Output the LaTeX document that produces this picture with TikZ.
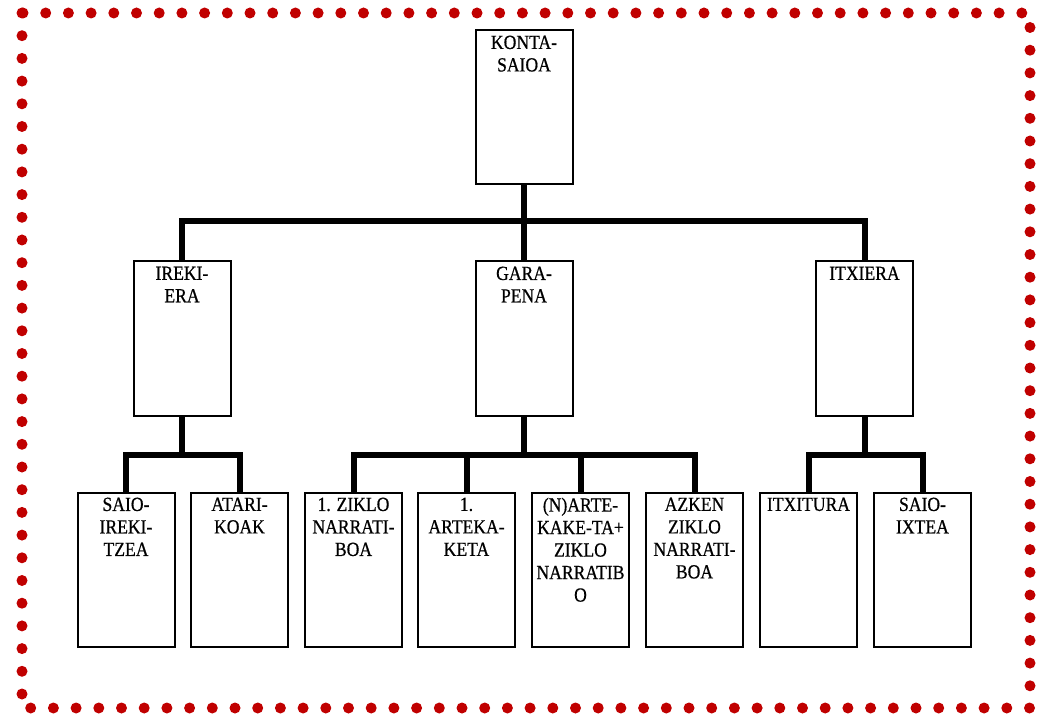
\documentclass[tikz,border=0pt]{standalone}
\usepackage{fontspec}
\setmainfont{Liberation Serif}[FakeStretch=0.88, FakeBold=0.6]
\usepackage{xcolor}
\usetikzlibrary{positioning, calc}

\definecolor{dotred}{HTML}{C00000}

\begin{document}
\begin{tikzpicture}[x=1pt, y=-1pt,
    box/.style={draw, line width=2pt, minimum width=97pt, minimum height=154pt, inner sep=0pt},
    lbl/.style={anchor=north, yshift=-6pt, align=center, inner sep=0pt,
        font=\fontsize{20}{22.5}\selectfont},
    conn/.style={line width=6pt}]
    \useasboundingbox (0,0) rectangle (1037,714);

    % Dotted frame
    \draw[dotred, line width=11pt, line cap=round, dash pattern=on 0pt off 22.7pt]
        (22,13) rectangle (1030,708);

    % Top level
    \node[box, label={[lbl]north:KONTA-\\SAIOA}] (konta) at (524,107.5) {};

    % Second level
    \node[box, label={[lbl]north:IREKI-\\ERA}] (ireki) at (182,338.5) {};
    \node[box, label={[lbl]north:GARA-\\PENA}] (garapena) at (524,338.5) {};
    \node[box, label={[lbl]north:ITXIERA}] (itxiera) at (864.5,338.5) {};

    % Third level
    \foreach \x/\name/\txt in {126/saioirekitzea/{SAIO-\\IREKI-\\TZEA},
                               239.5/atarikoak/{ATARI-\\KOAK},
                               353.5/ziklobat/{1. ZIKLO\\NARRATI-\\BOA},
                               466.5/artekaketa/{1.\\ARTEKA-\\KETA},
                               580.5/nartekaketa/{(N)ARTE-\\KAKE-TA+\\ZIKLO\\NARRATIB\\O},
                               694.5/azken/{AZKEN\\ZIKLO\\NARRATI-\\BOA},
                               808.5/itxitura/{ITXITURA},
                               922.5/saioixtea/{SAIO-\\IXTEA}} {
        \node[box, label={[lbl]north:\txt}] (\name) at (\x,569.5) {};
    }

    % Connectors
    \coordinate (barA) at (0,221);
    \coordinate (barB) at (0,455);
    \draw[conn] (konta.south) -- (konta.south |- barA);
    \draw[conn] (ireki.north) |- (barA -| garapena) -| (itxiera.north);
    \draw[conn] (garapena.north) -- (garapena.north |- barA);

    \draw[conn] (ireki.south) -- (ireki.south |- barB);
    \draw[conn] (saioirekitzea.north) |- (barB -| ireki) -| (atarikoak.north);

    \draw[conn] (garapena.south) -- (garapena.south |- barB);
    \draw[conn] (ziklobat.north) |- (barB -| garapena) -| (azken.north);
    \draw[conn] (artekaketa.north) -- (artekaketa.north |- barB);
    \draw[conn] (nartekaketa.north) -- (nartekaketa.north |- barB);

    \draw[conn] (itxiera.south) -- (itxiera.south |- barB);
    \draw[conn] (itxitura.north) |- (barB -| itxiera) -| (saioixtea.north);

\end{tikzpicture}
\end{document}
